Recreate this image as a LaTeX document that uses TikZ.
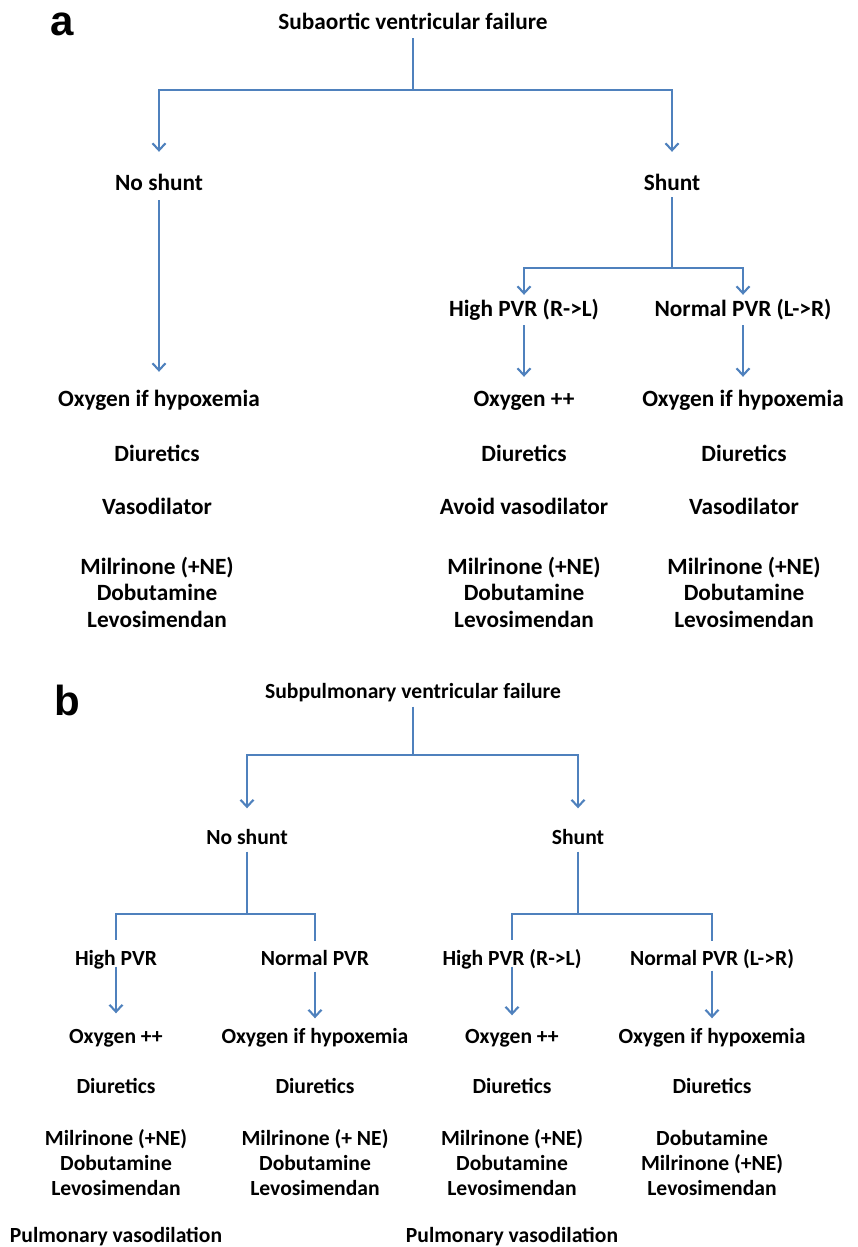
\documentclass[tikz,border=0pt]{standalone}
\usepackage{fontspec}
\setmainfont{Carlito}
\newfontfamily\panelfont{Liberation Sans}
\usepackage{xcolor}
\usetikzlibrary{arrows.meta, positioning}
\definecolor{linkblue}{RGB}{79,129,189}

\begin{document}
\begin{tikzpicture}[
    x=1pt, y=-1pt,
    link/.style={draw=linkblue, line width=2.1pt},
    arrow/.style={link, -{Straight Barb[length=7pt, width=13pt]}},
    tag/.style={font=\panelfont\bfseries\fontsize{42}{42}\selectfont, inner sep=0pt},
    txta/.style={font=\bfseries\fontsize{23.3}{26.5}\selectfont, inner sep=0pt, text height=16pt, text depth=4pt},
    lista/.style={font=\bfseries\fontsize{23.3}{26.5}\selectfont, inner sep=0pt, align=center},
    txtb/.style={font=\bfseries\fontsize{21.6}{25}\selectfont, inner sep=0pt, text height=15pt, text depth=4pt},
    listb/.style={font=\bfseries\fontsize{21.6}{25}\selectfont, inner sep=0pt, align=center}
]
\useasboundingbox (0,0) rectangle (858,1247);

% Panel a
\node[tag] (taga) at (62,24) {a};
\node[txta] (suba) at (413,24) {Subaortic ventricular failure};
\coordinate (ja) at (413,90);
\node[txta] (noshunta) at (159,184) {No shunt};
\node[txta] (shunta) at (672,184) {Shunt};
\draw[link, shorten <=4pt] (suba) -- (ja);
\draw[arrow, shorten >=22pt] (ja) -| (noshunta);
\draw[arrow, shorten >=22pt] (ja) -| (shunta);

\coordinate (jsa) at (672,268);
\node[txta] (higha) at (524,310) {High PVR (R->L)};
\node[txta] (norma) at (743,310) {Normal PVR (L->R)};
\draw[link, shorten <=3pt] (shunta) -- (jsa);
\draw[arrow, shorten >=5pt] (jsa) -| (higha);
\draw[arrow, shorten >=5pt] (jsa) -| (norma);

% Treatment, panel a
\node[txta] (oxa1) at (159,400) {Oxygen if hypoxemia};
\node[txta] (oxa2) at (524,400) {Oxygen ++};
\node[txta] (oxa3) at (743,400) {Oxygen if hypoxemia};
\draw[arrow, shorten <=6pt, shorten >=18pt] (noshunta) -- (oxa1);
\draw[arrow, shorten <=5pt, shorten >=13pt] (higha) -- (oxa2);
\draw[arrow, shorten <=5pt, shorten >=13pt] (norma) -- (oxa3);

\node[txta] (diua1) at (157,455) {Diuretics};
\node[txta] (diua2) at (524,455) {Diuretics};
\node[txta] (diua3) at (744,455) {Diuretics};
\node[txta] (vasa1) at (157,508) {Vasodilator};
\node[txta] (vasa2) at (524,508) {Avoid vasodilator};
\node[txta] (vasa3) at (744,508) {Vasodilator};
\node[lista] (inoa1) at (157,592) {Milrinone (+NE)\\Dobutamine\\Levosimendan};
\node[lista] (inoa2) at (524,592) {Milrinone (+NE)\\Dobutamine\\Levosimendan};
\node[lista] (inoa3) at (744,592) {Milrinone (+NE)\\Dobutamine\\Levosimendan};

% Panel b
\node[tag] (tagb) at (67,700) {b};
\node[txtb] (subb) at (413,693) {Subpulmonary ventricular failure};
\coordinate (jb) at (413,755);
\node[txtb] (noshuntb) at (247,839) {No shunt};
\node[txtb] (shuntb) at (578,839) {Shunt};
\draw[link, shorten <=4pt] (subb) -- (jb);
\draw[arrow, shorten >=21pt] (jb) -| (noshuntb);
\draw[arrow, shorten >=21pt] (jb) -| (shuntb);

\coordinate (jnb) at (247,914);
\coordinate (jsb) at (578,914);
\node[txtb] (highb1) at (116,960) {High PVR};
\node[txtb] (normb1) at (315,960) {Normal PVR};
\node[txtb] (highb2) at (512,960) {High PVR (R->L)};
\node[txtb] (normb2) at (712,960) {Normal PVR (L->R)};
\draw[link, shorten <=3pt] (noshuntb) -- (jnb);
\draw[link, shorten <=3pt] (shuntb) -- (jsb);
\draw[link, shorten >=10pt] (jnb) -| (highb1);
\draw[link, shorten >=9pt] (jnb) -| (normb1);
\draw[link, shorten >=10pt] (jsb) -| (highb2);
\draw[link, shorten >=9pt] (jsb) -| (normb2);

% Treatment, panel b
\node[txtb] (oxb1) at (116,1038) {Oxygen ++};
\node[txtb] (oxb2) at (315,1038) {Oxygen if hypoxemia};
\node[txtb] (oxb3) at (512,1038) {Oxygen ++};
\node[txtb] (oxb4) at (712,1038) {Oxygen if hypoxemia};
\draw[arrow, shorten <=-3pt, shorten >=15pt] (highb1) -- (oxb1);
\draw[arrow, shorten <=2pt, shorten >=10pt] (normb1) -- (oxb2);
\draw[arrow, shorten <=-3pt, shorten >=13pt] (highb2) -- (oxb3);
\draw[arrow, shorten <=1pt, shorten >=10pt] (normb2) -- (oxb4);

\node[txtb] (diub1) at (116,1088) {Diuretics};
\node[txtb] (diub2) at (315,1088) {Diuretics};
\node[txtb] (diub3) at (512,1088) {Diuretics};
\node[txtb] (diub4) at (712,1088) {Diuretics};
\node[listb] (inob1) at (116,1163) {Milrinone (+NE)\\Dobutamine\\Levosimendan};
\node[listb] (inob2) at (315,1163) {Milrinone (+ NE)\\Dobutamine\\Levosimendan};
\node[listb] (inob3) at (512,1163) {Milrinone (+NE)\\Dobutamine\\Levosimendan};
\node[listb] (inob4) at (712,1163) {Dobutamine\\Milrinone (+NE)\\Levosimendan};
\node[txtb] (pvb1) at (116,1237) {Pulmonary vasodilation};
\node[txtb] (pvb2) at (512,1237) {Pulmonary vasodilation};

\end{tikzpicture}
\end{document}
